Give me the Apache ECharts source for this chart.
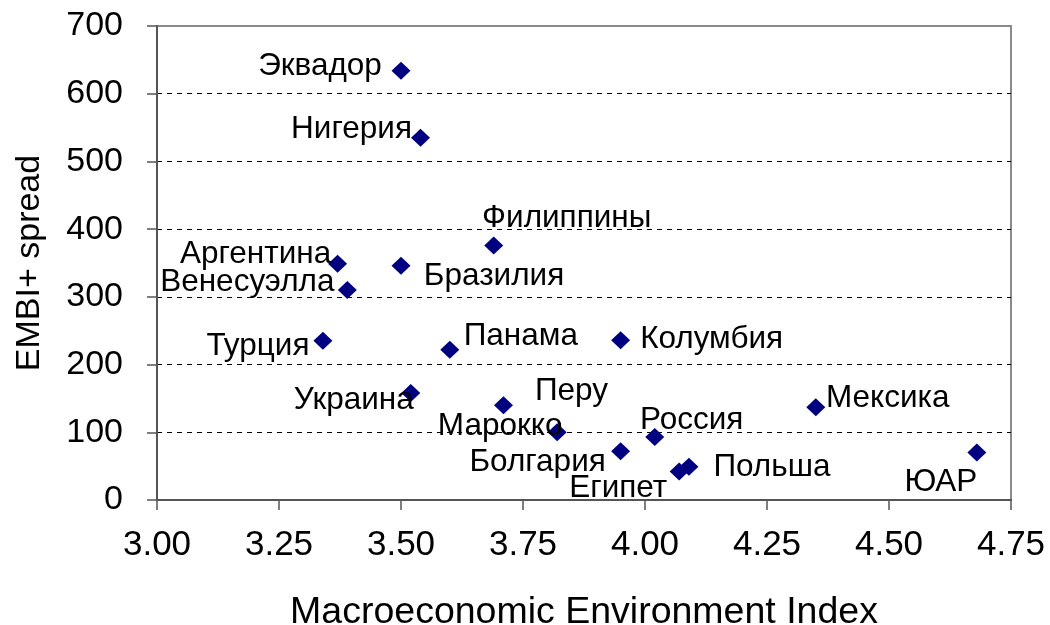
<!DOCTYPE html>
<html>
<head>
<meta charset="utf-8">
<script src="https://cdn.jsdelivr.net/npm/echarts@6/dist/echarts.min.js"></script>
<style>
  html, body { margin: 0; padding: 0; background: #fff; }
  #chart { width: 1050px; height: 625px; }
</style>
</head>
<body>
<div id="chart"></div>
<script>
// данные: страна, индекс макроэкономической среды, спред EMBI+
const countries = ["Эквадор", "Нигерия", "Филиппины", "Аргентина", "Бразилия", "Венесуэлла",
  "Турция", "Панама", "Украина", "Перу", "Марокко", "Колумбия", "Мексика", "Россия",
  "Болгария", "Египет", "Польша", "ЮАР"];
const macroIndex = [3.50, 3.54, 3.69, 3.37, 3.50, 3.39, 3.34, 3.60, 3.52, 3.71, 3.82, 3.95,
  4.35, 4.02, 3.95, 4.07, 4.09, 4.68];
const spread = [634, 535, 376, 349, 346, 310, 235, 222, 158, 140, 100, 236, 137, 93, 72, 42,
  49, 70];
const xTicks = [3.00, 3.25, 3.50, 3.75, 4.00, 4.25, 4.50, 4.75];
const yTicks = [0, 100, 200, 300, 400, 500, 600, 700];

// сдвиг центра подписи относительно центра точки (px), как в исходной диаграмме
const labelShift = [[-81, -4], [-69, -8], [73, -27], [-82, -9], [93, 11], [-100, -8],
  [-65, 5], [71, -13], [-57, 7], [68, -14], [-57, -6], [91, -1], [72, -9], [37, -17],
  [-83, 11], [-61, 17], [83, 0], [-36, 30]];

const font = "'Liberation Sans', Arial, sans-serif";
const symW = 19, symH = 18;

const points = countries.map((name, i) => ({
  name: name,
  value: [macroIndex[i], spread[i]],
  label: { position: [symW / 2 + labelShift[i][0], symH / 2 + labelShift[i][1]] }
}));

const chart = echarts.init(document.getElementById("chart"));
chart.setOption({
  animation: false,
  textStyle: { fontFamily: font },
  grid: {
    left: 157, right: 39, top: 26, bottom: 125,
    show: true, borderColor: "#8a8a8a", borderWidth: 2,
    outerBoundsMode: "none"
  },
  xAxis: {
    type: "value",
    min: xTicks[0], max: xTicks[xTicks.length - 1], interval: 0.25,
    name: "Macroeconomic Environment Index",
    nameLocation: "middle", nameGap: 94,
    nameTextStyle: { fontSize: 37.5, color: "#000", fontFamily: font },
    axisLine: { show: true, onZero: false, lineStyle: { color: "#555", width: 2 } },
    axisTick: { show: true, inside: false, length: 10, lineStyle: { color: "#555", width: 1.5 } },
    axisLabel: { fontSize: 35, color: "#000", margin: 28, fontFamily: font,
      formatter: v => v.toFixed(2) },
    splitLine: { show: false }
  },
  yAxis: {
    type: "value",
    min: yTicks[0], max: yTicks[yTicks.length - 1], interval: 100,
    name: "EMBI+ spread",
    nameLocation: "middle", nameGap: 110, nameRotate: 90,
    nameTextStyle: { fontSize: 34, color: "#000", fontFamily: font },
    axisLine: { show: true, onZero: false, lineStyle: { color: "#555", width: 2 } },
    axisTick: { show: true, inside: false, length: 10, lineStyle: { color: "#555", width: 1.5 } },
    axisLabel: { fontSize: 34, color: "#000", margin: 34, fontFamily: font },
    splitLine: {
      show: true,
      lineStyle: {
        // без пунктира на 0 и 700 (там оси/рамка)
        color: ["transparent", "#000", "#000", "#000", "#000", "#000", "#000", "transparent"],
        type: [5, 5], width: 1
      }
    }
  },
  series: [{
    type: "scatter",
    symbol: "diamond",
    symbolSize: [symW, symH],
    itemStyle: { color: "#000080", opacity: 1 },
    label: {
      show: true,
      align: "center", verticalAlign: "middle",
      formatter: p => p.name,
      fontSize: 31.5, color: "#000", fontFamily: font,
      textBorderWidth: 0
    },
    data: points
  }]
});
</script>
</body>
</html>
